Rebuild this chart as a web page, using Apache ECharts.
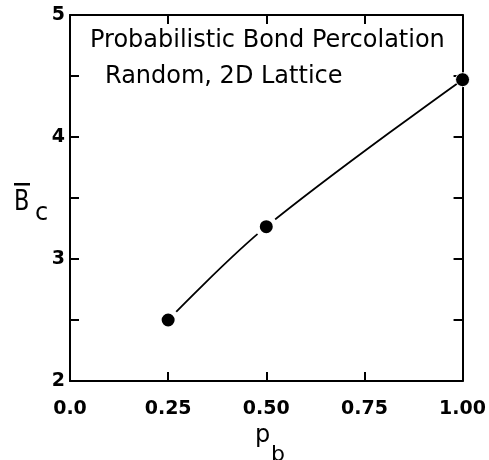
<!DOCTYPE html>
<html>
<head>
<meta charset="utf-8">
<script src="https://cdn.jsdelivr.net/npm/echarts@6/dist/echarts.min.js"></script>
<style>html,body{margin:0;padding:0;background:#fff;}#c{width:489px;height:460px;}</style>
</head>
<body>
<div id="c"></div>
<script>
const pbValues = [0.25, 0.50, 1.00];
const bcValues = [2.50, 3.265, 4.47];
const xTicks = [0, 0.25, 0.5, 0.75, 1.0];
const yTickLabels = [2, 3, 4, 5];
const titleLines = ['Probabilistic Bond Percolation', 'Random, 2D Lattice'];

const chart = echarts.init(document.getElementById('c'), null, {renderer: 'canvas'});
const FONT = 'DejaVu Sans';
const lineStyle = {color: '#000', width: 2};
const seriesData = pbValues.map((x, i) => {
  const item = {value: [x, bcValues[i]]};
  if (i === pbValues.length - 1) {
    item.symbolSize = 14;
    item.itemStyle = {borderWidth: 1};
  }
  return item;
});

chart.setOption({
  animation: false,
  backgroundColor: '#fff',
  grid: {left: 70, right: 24, top: 15, bottom: 79, containLabel: false},
  xAxis: [{
    type: 'value', min: 0, max: 1, interval: 0.25, position: 'bottom',
    axisLine: {show: true, onZero: false, lineStyle: lineStyle},
    axisTick: {show: true, inside: true, length: 9, lineStyle: lineStyle},
    splitLine: {show: false},
    axisLabel: {
      margin: 19, color: '#000', fontFamily: FONT, fontSize: 19, fontWeight: 'bold',
      formatter: v => (v === 0 ? '0.0' : v.toFixed(2))
    }
  }, {
    type: 'value', min: 0, max: 1, interval: 0.25, position: 'top',
    axisLine: {show: true, onZero: false, lineStyle: lineStyle},
    axisTick: {show: true, inside: true, length: 9, lineStyle: lineStyle},
    splitLine: {show: false}, axisLabel: {show: false}
  }],
  yAxis: [{
    type: 'value', min: 2, max: 5, interval: 0.5, position: 'left',
    axisLine: {show: true, onZero: false, lineStyle: lineStyle},
    axisTick: {show: true, inside: true, length: 9, lineStyle: lineStyle},
    splitLine: {show: false},
    axisLabel: {
      margin: 5, color: '#000', fontFamily: FONT, fontSize: 19, fontWeight: 'bold',
      formatter: v => (yTickLabels.indexOf(v) >= 0 ? String(v) : '')
    }
  }, {
    type: 'value', min: 2, max: 5, interval: 0.5, position: 'right',
    axisLine: {show: true, onZero: false, lineStyle: lineStyle},
    axisTick: {show: true, inside: true, length: 9, lineStyle: lineStyle},
    splitLine: {show: false}, axisLabel: {show: false}
  }],
  series: [{
    type: 'line',
    xAxisIndex: 0, yAxisIndex: 0,
    data: seriesData,
    smooth: 0.35,
    clip: false,
    symbol: 'circle',
    symbolSize: 18,
    itemStyle: {color: '#000', borderColor: '#fff', borderWidth: 5},
    lineStyle: {color: '#000', width: 1.8},
    z: 3
  }],
  graphic: [
    {type: 'text', style: {x: 90, y: 29, text: titleLines[0], font: '24px "DejaVu Sans"', fill: '#000'}},
    {type: 'text', style: {x: 105, y: 65, text: titleLines[1], font: '24px "DejaVu Sans"', fill: '#000'}},
    {type: 'text', x: 14, y: 189, scaleX: 0.8, style: {x: 0, y: 0, text: 'B', font: '28px "DejaVu Sans"', fill: '#000'}},
    {type: 'rect', shape: {x: 14, y: 183, width: 16, height: 2.5}, style: {fill: '#000'}},
    {type: 'text', style: {x: 35, y: 202, text: 'c', font: '24px "DejaVu Sans"', fill: '#000'}},
    {type: 'text', style: {x: 255, y: 424, text: 'p', font: '24px "DejaVu Sans"', fill: '#000'}},
    {type: 'text', style: {x: 271, y: 444, text: 'b', font: '22px "DejaVu Sans"', fill: '#000'}}
  ]
});
</script>
</body>
</html>
